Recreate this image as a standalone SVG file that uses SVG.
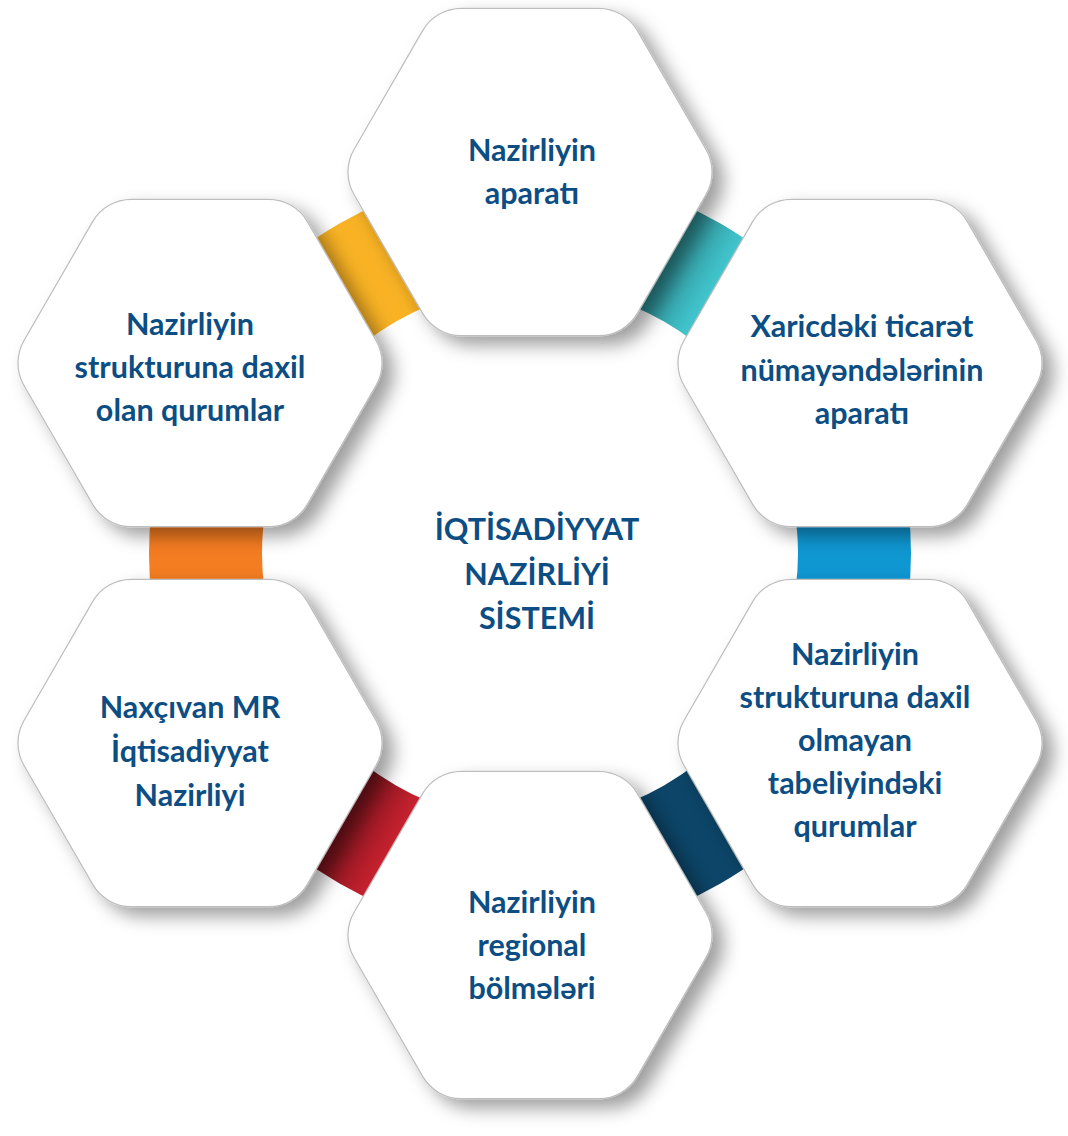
<svg xmlns="http://www.w3.org/2000/svg" xmlns:xlink="http://www.w3.org/1999/xlink" width="1068" height="1136" viewBox="0 0 1068 1136">
<style>
.t{font-family:Lato,"Open Sans","Liberation Sans",sans-serif;font-weight:bold;font-size:30.5px;fill:#0C4E84;text-anchor:middle}
.hx{fill:#FFFFFF;stroke:#BDBDBD;stroke-width:1.2}
</style>
<defs>
<path id="hex" d="M-68.5,-163.68 L68.5,-163.68 A45,45 0 0 1 107.5,-141.16 L176,-22.52 A45,45 0 0 1 176,22.52 L107.5,141.16 A45,45 0 0 1 68.5,163.68 L-68.5,163.68 A45,45 0 0 1 -107.5,141.16 L-176,22.52 A45,45 0 0 1 -176,-22.52 L-107.5,-141.16 A45,45 0 0 1 -68.5,-163.68 Z"/>
<filter id="sh" x="-20%" y="-20%" width="150%" height="150%">
<feDropShadow dx="11" dy="9" stdDeviation="9" flood-color="#000" flood-opacity="0.38"/>
</filter>
<linearGradient id="gTeal" gradientUnits="userSpaceOnUse" x1="672" y1="254" x2="718" y2="281">
<stop offset="0" stop-color="#2D8C92"/><stop offset="1" stop-color="#42C8D0"/>
</linearGradient>
<linearGradient id="gRed" gradientUnits="userSpaceOnUse" x1="342" y1="826" x2="388" y2="852">
<stop offset="0" stop-color="#7A131C"/><stop offset="1" stop-color="#C9212F"/>
</linearGradient>
</defs>
<rect width="1068" height="1136" fill="#FFFFFF"/>
<g id="connectors">
<path fill="url(#gTeal)" d="M530,172.5 A381,381 0 0 1 859.96,363 L762.09,419.5 A268,268 0 0 0 530,285.5 Z"/>
<path fill="#0F97D2" d="M859.96,363 A381,381 0 0 1 859.96,744 L762.09,687.5 A268,268 0 0 0 762.09,419.5 Z"/>
<path fill="#0C4568" d="M859.96,744 A381,381 0 0 1 530,934.5 L530,821.5 A268,268 0 0 0 762.09,687.5 Z"/>
<path fill="url(#gRed)" d="M530,934.5 A381,381 0 0 1 200.04,744 L297.91,687.5 A268,268 0 0 0 530,821.5 Z"/>
<path fill="#F47C21" d="M200.04,744 A381,381 0 0 1 200.04,363 L297.91,419.5 A268,268 0 0 0 297.91,687.5 Z"/>
<path fill="#F8B224" d="M200.04,363 A381,381 0 0 1 530,172.5 L530,285.5 A268,268 0 0 0 297.91,419.5 Z"/>
</g>
<g id="center">
<text class="t" x="537" y="540">İQTİSADİYYAT</text>
<text class="t" x="537" y="585">NAZİRLİYİ</text>
<text class="t" x="537" y="629">SİSTEMİ</text>
</g>
<g id="node-top">
<use href="#hex" x="530" y="172" class="hx" filter="url(#sh)"/>
<text class="t" x="532" y="161">Nazirliyin</text>
<text class="t" x="532" y="204">aparatı</text>
</g>
<g id="node-upper-right">
<use href="#hex" x="860" y="363" class="hx" filter="url(#sh)"/>
<text class="t" x="862" y="337">Xaricdəki ticarət</text>
<text class="t" x="862" y="381">nümayəndələrinin</text>
<text class="t" x="862" y="424">aparatı</text>
</g>
<g id="node-lower-right">
<use href="#hex" x="860" y="743" class="hx" filter="url(#sh)"/>
<text class="t" x="855" y="665">Nazirliyin</text>
<text class="t" x="855" y="708">strukturuna daxil</text>
<text class="t" x="855" y="751">olmayan</text>
<text class="t" x="855" y="794">tabeliyindəki</text>
<text class="t" x="855" y="837">qurumlar</text>
</g>
<g id="node-bottom">
<use href="#hex" x="530" y="935" class="hx" filter="url(#sh)"/>
<text class="t" x="532" y="913">Nazirliyin</text>
<text class="t" x="532" y="956">regional</text>
<text class="t" x="532" y="999">bölmələri</text>
</g>
<g id="node-lower-left">
<use href="#hex" x="200" y="743" class="hx" filter="url(#sh)"/>
<text class="t" x="190" y="718">Naxçıvan MR</text>
<text class="t" x="190" y="762">İqtisadiyyat</text>
<text class="t" x="190" y="806">Nazirliyi</text>
</g>
<g id="node-upper-left">
<use href="#hex" x="200" y="363" class="hx" filter="url(#sh)"/>
<text class="t" x="190" y="335">Nazirliyin</text>
<text class="t" x="190" y="378">strukturuna daxil</text>
<text class="t" x="190" y="421">olan qurumlar</text>
</g>
</svg>
